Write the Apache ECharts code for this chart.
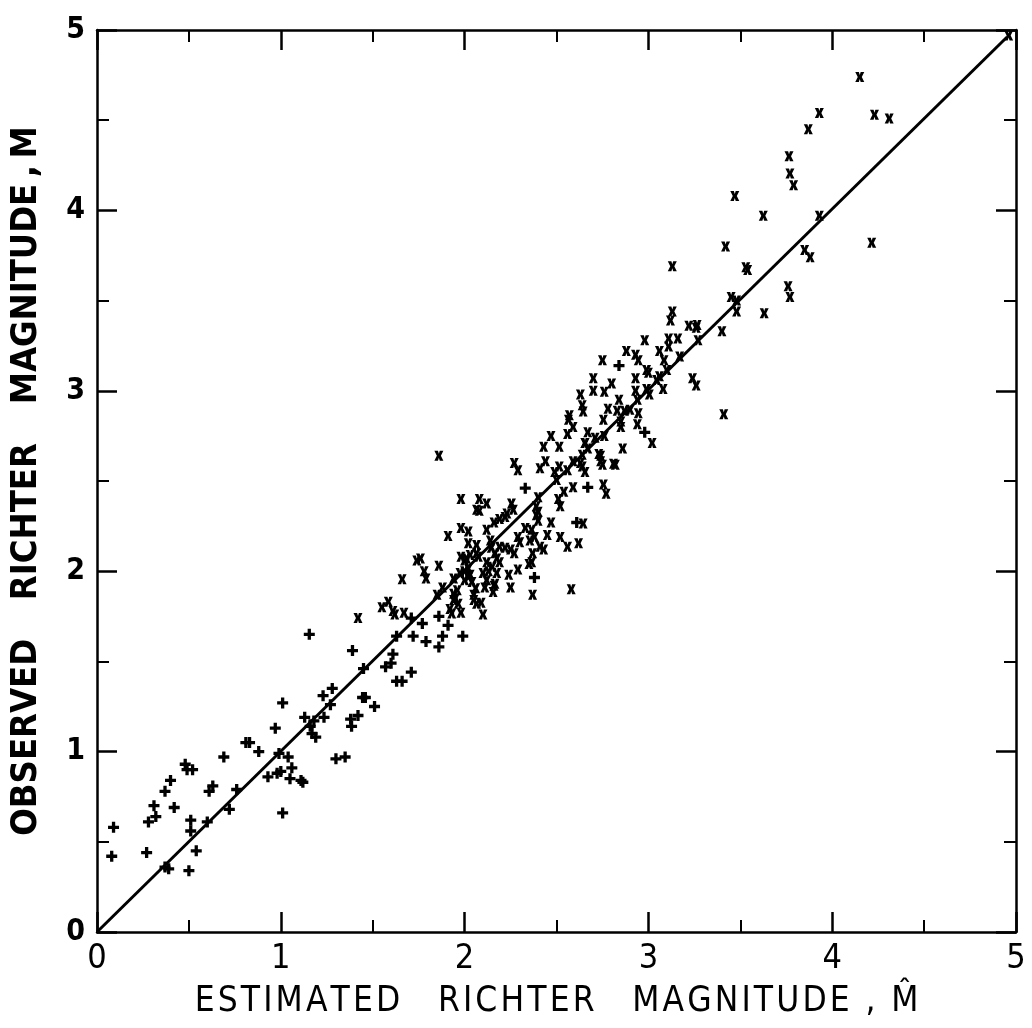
<!DOCTYPE html>
<html><head><meta charset="utf-8">
<script src="https://cdn.jsdelivr.net/npm/echarts@6/dist/echarts.min.js"></script>
<style>html,body{margin:0;padding:0;background:#fff}#c{width:1032px;height:1028px}</style>
</head><body><div id="c"></div>
<script>
// Axis tick values
const tickValues = [0, 1, 2, 3, 4, 5];

// "+" markers
const plusX = [0.09,0.08,0.27,0.28,0.32,0.31,0.37,0.40,0.42,0.37,0.39,0.48,0.49,0.52,0.51,0.51,0.54,0.50,0.60,0.61,
  0.63,0.69,0.72,0.76,0.81,0.83,0.88,0.93,0.97,0.98,1.00,0.99,1.01,1.04,1.06,1.05,1.11,1.12,1.16,1.18,
  1.17,1.19,1.30,1.35,1.155,1.01,1.13,1.235,1.23,1.28,1.27,1.39,1.445,1.46,1.51,1.38,1.42,1.385,1.45,1.57,
  1.61,1.60,1.63,1.66,1.71,1.63,1.72,1.71,1.77,1.79,1.86,1.88,1.99,1.91,1.86,2.33,2.38,2.61,2.84,2.98,2.67];
const plusY = [0.58,0.42,0.44,0.61,0.64,0.70,0.78,0.84,0.69,0.36,0.35,0.93,0.90,0.90,0.62,0.56,0.45,0.34,0.61,0.78,
  0.81,0.97,0.68,0.79,1.05,1.05,1.00,0.86,1.13,0.88,0.89,0.99,0.66,0.97,0.91,0.85,0.84,0.83,1.14,1.17,
  1.10,1.08,0.96,0.97,1.65,1.27,1.19,1.19,1.31,1.35,1.26,1.56,1.30,1.30,1.25,1.18,1.20,1.14,1.46,1.47,
  1.54,1.49,1.39,1.39,1.44,1.64,1.64,1.74,1.71,1.61,1.58,1.64,1.64,1.70,1.75,2.46,1.965,2.27,3.14,2.77,2.465];

// "x" markers
const crossX = [1.42,1.55,1.585,1.61,1.62,1.67,1.66,1.74,1.76,1.78,1.79,1.86,1.85,
  1.86,2.43,2.515,2.655,2.27,2.29,2.41,2.44,2.49,2.515,2.56,2.59,2.63,2.655,2.74,2.75,2.81,
  2.50,2.54,2.59,2.755,2.77,2.40,2.39,2.51,2.52,1.98,2.08,2.12,2.065,2.08,2.255,2.265,2.23,2.19,
  2.16,2.39,2.40,2.47,2.645,1.98,2.02,2.12,1.91,2.02,2.065,2.065,2.14,2.145,2.19,2.22,2.25,2.27,
  2.29,2.30,2.33,2.365,2.38,2.41,2.43,2.45,2.52,2.56,2.62,1.98,2.01,2.03,2.175,2.19,2.15,2.13,
  2.35,2.365,2.29,1.94,1.88,2.00,2.02,2.04,2.06,2.10,2.12,2.11,2.16,2.24,2.25,2.37,2.58,
  1.94,1.965,1.98,2.05,2.065,2.09,2.10,1.92,
  2.40,2.22,2.355,2.165,2.00,2.075,2.37,2.12,2.02,2.175,1.96,1.975,2.03,2.00,2.05,2.155,2.165,1.94,1.95,1.93,
  2.98,3.11,3.16,3.06,3.11,2.88,2.75,2.93,2.945,3.085,3.10,2.99,3.00,3.40,
  2.70,2.80,2.93,3.045,3.06,3.08,3.24,3.26,3.41,2.63,2.70,2.76,2.93,2.99,3.005,2.84,2.94,2.64,2.645,
  2.78,2.83,2.87,2.90,2.945,2.57,2.565,2.59,2.755,2.85,2.85,2.94,3.02,2.47,2.56,2.67,2.71,2.76,
  2.655,2.67,2.64,2.73,2.74,2.86,2.82,2.64,
  3.79,3.47,3.625,3.93,4.215,3.42,3.85,3.88,3.13,3.53,3.54,3.76,3.77,3.45,3.48,3.48,3.63,3.13,3.12,
  3.22,3.265,3.26,3.27,3.17,4.96,4.15,3.93,4.23,4.31,3.87,3.765,3.77];
const crossY = [1.74,1.80,1.83,1.78,1.76,1.77,1.955,2.06,2.07,2.00,1.96,2.03,1.87,
  2.64,2.69,2.69,2.71,2.60,2.56,2.57,2.61,2.55,2.58,2.56,2.61,2.60,2.55,2.64,2.59,2.595,
  2.505,2.44,2.465,2.48,2.43,2.41,2.36,2.40,2.36,2.40,2.40,2.375,2.34,2.335,2.375,2.34,2.32,2.29,
  2.27,2.31,2.28,2.27,2.265,2.24,2.22,2.23,2.195,2.155,2.145,2.10,2.17,2.13,2.135,2.13,2.12,2.10,
  2.19,2.16,2.24,2.23,2.19,2.135,2.12,2.20,2.19,2.135,2.155,2.08,2.07,2.09,2.07,2.05,2.025,2.00,
  2.04,2.05,2.01,1.96,1.91,2.00,1.97,1.94,1.905,1.99,1.95,1.91,1.92,1.98,1.91,1.87,1.90,
  1.84,1.82,1.77,1.84,1.82,1.825,1.76,1.79,
  2.33,2.30,2.17,2.10,2.06,2.08,2.10,2.05,2.015,1.99,1.895,1.99,1.98,1.95,1.87,1.885,1.93,1.875,1.85,1.765,
  3.28,3.29,3.29,3.22,3.245,3.22,3.17,3.20,3.17,3.17,3.115,3.115,3.10,3.33,
  3.07,3.04,3.07,3.06,3.08,3.01,3.07,3.03,2.87,2.98,3.00,2.995,3.00,3.01,2.98,2.95,2.95,2.92,2.885,
  2.90,2.89,2.89,2.895,2.875,2.865,2.84,2.80,2.84,2.83,2.80,2.815,2.71,2.75,2.76,2.77,2.74,2.75,
  2.71,2.68,2.645,2.65,2.61,2.68,2.59,2.58,
  4.14,4.08,3.97,3.97,3.82,3.80,3.78,3.74,3.69,3.685,3.67,3.58,3.52,3.52,3.50,3.44,3.43,3.44,3.39,
  3.36,3.365,3.35,3.28,3.19,4.97,4.74,4.54,4.53,4.51,4.45,4.30,4.205];

// Fitted line (M = M-hat)
const fitX = [0, 4.95];
const fitY = [0, 4.96];

// Axis titles; x title letters spread apart with hair spaces like the original lettering
const spread = (s, sep, gap) => s.split(' ').map(w => Array.from(w).join(sep)).join(gap);
const xTitle = spread('ESTIMATED RICHTER MAGNITUDE', '\u200A', '\u2003\u200A\u200A') + '\u2002,\u2002M\u0302';
const yTitle = spread('OBSERVED RICHTER MAGNITUDE', '', '\u2003\u200A\u200A') + '\u2009,\u2009M';

const zip = (a, b) => a.map((v, i) => [v, b[i]]);
const FONT = '"Liberation Sans Narrow","DejaVu Sans Condensed","Liberation Sans",sans-serif';

function axisBase(pos, showLabel, isX) {
  return {
    type: 'value', min: 0, max: 5, interval: 1, position: pos,
    axisLine: { show: true, onZero: false, lineStyle: { color: '#000', width: 2.5 } },
    axisTick: { show: true, inside: true, length: 20, lineStyle: { color: '#000', width: 2.5 } },
    minorTick: { show: true, splitNumber: 2, length: 12, lineStyle: { color: '#000', width: 2 } },
    splitLine: { show: false },
    axisLabel: showLabel ? {
      color: '#000', fontFamily: FONT, fontSize: isX ? 34 : 30, fontWeight: isX ? 'normal' : 'bold',
      margin: isX ? 10 : 12,
      formatter: v => tickValues.includes(v) ? String(v) : ''
    } : { show: false }
  };
}

const xMain = Object.assign(axisBase('bottom', true, true), {
  name: xTitle, nameLocation: 'middle', nameGap: 52,
  nameTextStyle: { color: '#000', fontFamily: FONT, fontSize: 35 }
});
const yMain = Object.assign(axisBase('left', true, false), {
  name: yTitle, nameLocation: 'middle', nameGap: 52,
  nameTextStyle: { color: '#000', fontFamily: FONT, fontSize: 36, fontWeight: 'bold' }
});

const plusPath = 'path://M3.5,0H6.5V3.5H10V6.5H6.5V10H3.5V6.5H0V3.5H3.5Z';
const crossPath = 'path://M0,0H3.2L4,3L4.8,0H8L5.8,5L8,10H4.8L4,7L3.2,10H0L2.2,5Z';

const chart = echarts.init(document.getElementById('c'));
chart.setOption({
  animation: false,
  backgroundColor: '#fff',
  grid: { left: 97, right: 16, top: 30, bottom: 96 },
  xAxis: [xMain, axisBase('top', false, true)],
  yAxis: [yMain, axisBase('right', false, false)],
  series: [
    { type: 'line', data: zip(fitX, fitY), symbol: 'none', lineStyle: { color: '#000', width: 3 }, z: 2 },
    { type: 'scatter', data: zip(plusX, plusY), symbol: plusPath, symbolSize: 11, itemStyle: { color: '#000', opacity: 1 }, z: 3 },
    { type: 'scatter', data: zip(crossX, crossY), symbol: crossPath, symbolSize: [9, 10], itemStyle: { color: '#000', opacity: 1 }, z: 3 }
  ]
});
</script>
</body></html>
